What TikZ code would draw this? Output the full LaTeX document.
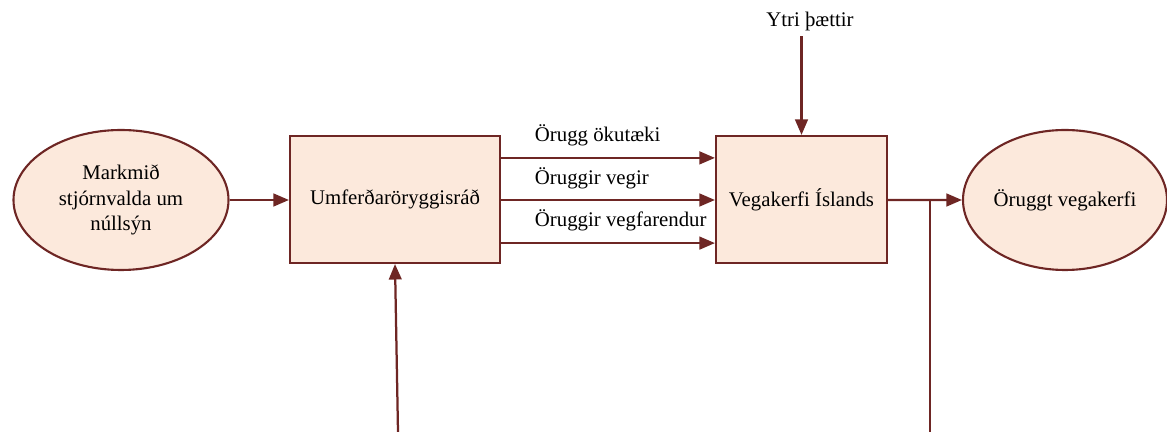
\documentclass[tikz,border=0pt]{standalone}
\usepackage{fontspec}
\setmainfont{Liberation Serif}
\usetikzlibrary{arrows.meta,shapes.geometric}
\definecolor{linebrown}{RGB}{110,38,36}
\definecolor{boxfill}{RGB}{252,233,220}
\begin{document}
\begin{tikzpicture}[font=\fontsize{14.8pt}{18.4pt}\selectfont,
    flow/.style={draw=linebrown, line width=1.6pt, -{Triangle[length=11pt,width=9pt]}},
    plainline/.style={draw=linebrown, line width=1.6pt},
    goal/.style={ellipse, draw=linebrown, line width=1.5pt, fill=boxfill, align=center, inner sep=0pt},
    block/.style={rectangle, draw=linebrown, line width=1.5pt, fill=boxfill, align=center}]
    \useasboundingbox (0,0) rectangle (29.175,10.8);

    \node[goal, minimum width=5.375cm, minimum height=3.5cm] (markmid) at (3.025,5.8) {Markmið\\stjórnvalda um\\núllsýn};
    \node[block, minimum width=5.25cm, minimum height=3.175cm] (radid) at (9.875,5.8125) {Umferðaröryggisráð};
    \node[block, minimum width=4.275cm, minimum height=3.175cm] (kerfi) at (20.0375,5.8125) {Vegakerfi Íslands};
    \node[goal, minimum width=5.1cm, minimum height=3.5cm] (oruggt) at (26.625,5.8) {Öruggt vegakerfi};
    \node (ytri) at (20.25,10.25) {Ytri þættir};

    \draw[flow] (markmid.east) -- (markmid.east -| radid.west);
    \draw[flow] ([yshift=1.04cm]radid.east) -- ([yshift=1.04cm]kerfi.west);
    \draw[flow] ([yshift=-0.0125cm]radid.east) -- ([yshift=-0.0125cm]kerfi.west);
    \draw[flow] ([yshift=-1.09cm]radid.east) -- ([yshift=-1.09cm]kerfi.west);
    \node[anchor=west] (lbl1) at (13.25,7.425) {Örugg ökutæki};
    \node[anchor=west] (lbl2) at (13.25,6.35) {Öruggir vegir};
    \node[anchor=west] (lbl3) at (13.25,5.3) {Öruggir vegfarendur};

    \draw[flow] (kerfi.north |- ytri.south) -- (kerfi.north);
    \draw[flow] ([yshift=-0.0125cm]kerfi.east) -- (oruggt.west);

    % lines leaving the picture at the bottom
    \coordinate (fbleft) at (9.95,0);
    \coordinate (fbright) at (23.25,0);
    \draw[flow] (fbleft) -- (radid.south);
    \draw[plainline] (fbright) -- (fbright |- oruggt.west);
\end{tikzpicture}
\end{document}
